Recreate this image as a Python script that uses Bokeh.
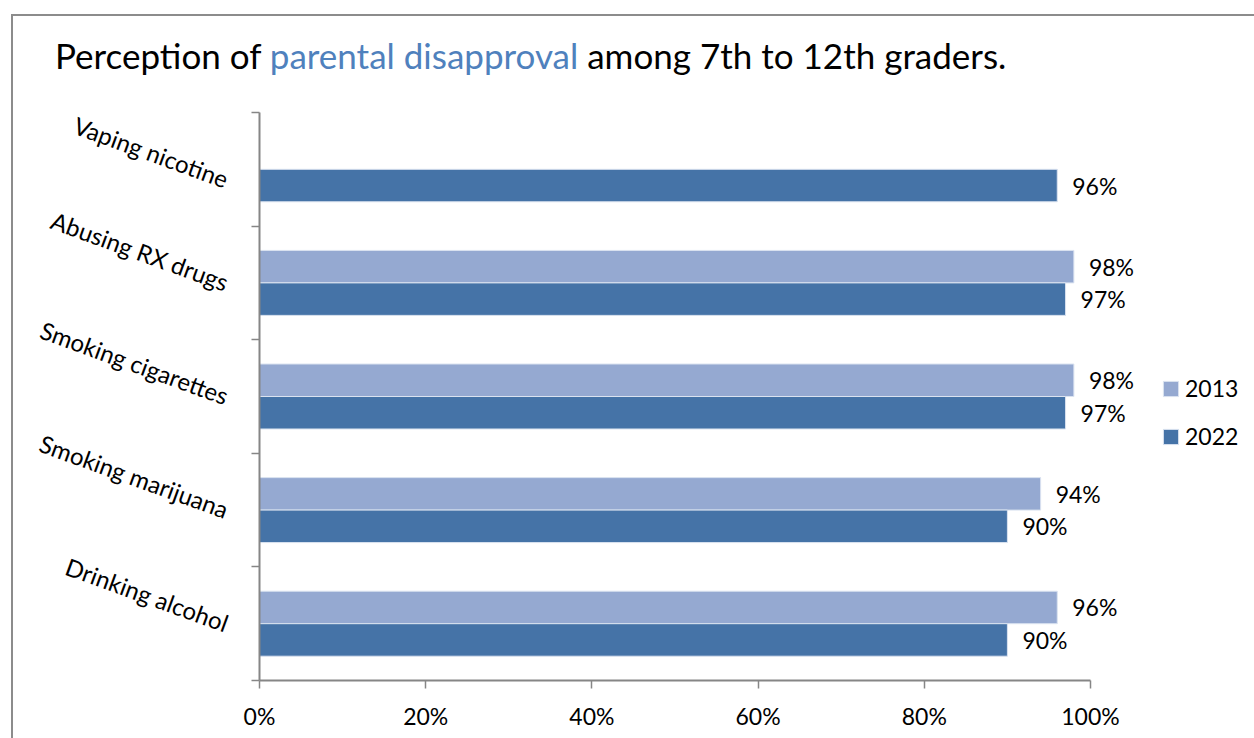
import math

from bokeh.plotting import figure
from bokeh.layouts import column
from bokeh.models import (Range1d, FixedTicker, PrintfTickFormatter, ColumnDataSource,
                          Legend, LegendItem, Div)
from bokeh.core.properties import value
from bokeh.embed import file_html
from bokeh.resources import INLINE

# Survey categories, bottom to top
categories = ["Drinking alcohol", "Smoking marijuana", "Smoking cigarettes",
              "Abusing RX drugs", "Vaping nicotine"]
pct_2013 = [96, 94, 98, 98, None]
pct_2022 = [90, 90, 97, 97, 96]
years = ["2013", "2022"]
x_ticks = [0, 20, 40, 60, 80, 100]

title_runs = ["Perception of ", "parental disapproval", " among 7th to 12th graders."]
title_colors = ["#000000", "#4F81BD", "#000000"]

COLOR_2013 = "#95A9D1"
COLOR_2022 = "#4573A7"
AXIS_COLOR = "#868686"
BORDER_COLOR = "#8c8c8c"
FONT = "Lato"

BAR_H = 0.286           # height of one bar in category units
OFFSET = BAR_H / 2      # 2013 above the category centre, 2022 below

# page geometry (px)
PAGE_W, PAGE_H = 1254, 738
MARGIN_L, MARGIN_T, BORDER_W = 11, 14, 2
INNER_W = PAGE_W - MARGIN_L - BORDER_W
TITLE_H = 94
MAIN_H = PAGE_H - MARGIN_T - BORDER_W - TITLE_H
FRAME_L = 246            # y axis position inside the main figure
PLOT_W = 831             # pixels from 0% to 100%
FRAME_TOP = 2
FRAME_BOTTOM = 58
X_END = 100 * (INNER_W - FRAME_L) / PLOT_W

# ---- title -------------------------------------------------------------
spans = "".join(f'<span style="color:{c}">{t}</span>' for t, c in zip(title_runs, title_colors))
title = Div(text=(f'<div style="padding:18px 0 0 42px; font-family:{FONT}; font-size:35px; '
                  f'line-height:1.2; white-space:pre; color:#000000">{spans}</div>'),
            width=INNER_W, height=TITLE_H, margin=0)

# ---- main chart --------------------------------------------------------
p = figure(width=INNER_W, height=MAIN_H, output_backend="svg", toolbar_location=None,
           x_range=Range1d(0, X_END), y_range=Range1d(-0.5, len(categories) - 0.5),
           min_border_left=FRAME_L, min_border_right=0,
           min_border_top=FRAME_TOP, min_border_bottom=FRAME_BOTTOM, margin=0)
p.outline_line_color = None
p.xgrid.visible = False
p.ygrid.visible = False


def series_source(values, shift):
    rows = [(i, v) for i, v in enumerate(values) if v is not None]
    return ColumnDataSource(dict(
        y=[i + shift for i, _ in rows],
        value=[v for _, v in rows],
        text=[f"{v}%" for _, v in rows],
    ))


src_2013 = series_source(pct_2013, OFFSET)
src_2022 = series_source(pct_2022, -OFFSET)

r13 = p.hbar(y="y", left=0, right="value", height=BAR_H, source=src_2013,
             fill_color=COLOR_2013, line_color="#dbe3f0", line_width=1)
r22 = p.hbar(y="y", left=0, right="value", height=BAR_H, source=src_2022,
             fill_color=COLOR_2022, line_color="#dbe3f0", line_width=1)

for src in (src_2013, src_2022):
    p.text(x="value", y="y", text="text", source=src, x_offset=15,
           text_align="left", text_baseline="middle",
           text_font=value(FONT), text_font_size="23px", text_color="#000000")

# x axis: percentages, only across 0-100
xa = p.xaxis[0]
xa.bounds = (0, 100)
xa.ticker = FixedTicker(ticks=x_ticks, minor_ticks=[])
xa.formatter = PrintfTickFormatter(format="%d%%")
xa.major_tick_in = 0
xa.major_tick_out = 8
xa.axis_line_color = AXIS_COLOR
xa.axis_line_width = 2
xa.major_tick_line_color = AXIS_COLOR
xa.major_tick_line_width = 1.5
xa.major_label_text_font = FONT
xa.major_label_text_font_size = "23px"
xa.major_label_text_color = "#000000"
xa.major_label_standoff = 13

# y axis: names at category centres, tick marks on the boundaries
ya = p.yaxis[0]
ya.ticker = FixedTicker(ticks=list(range(len(categories))),
                        minor_ticks=[i - 0.5 for i in range(len(categories) + 1)])
ya.major_label_overrides = {i: name for i, name in enumerate(categories)}
ya.major_tick_in = 0
ya.major_tick_out = 0
ya.minor_tick_in = 0
ya.minor_tick_out = 8
ya.axis_line_color = AXIS_COLOR
ya.axis_line_width = 2
ya.minor_tick_line_color = AXIS_COLOR
ya.minor_tick_line_width = 1.5
ya.major_label_orientation = -math.radians(20)
ya.major_label_standoff = 24
ya.major_label_text_font = FONT
ya.major_label_text_font_size = "24px"
ya.major_label_text_color = "#000000"

legend = Legend(items=[LegendItem(label=years[0], renderers=[r13]),
                       LegendItem(label=years[1], renderers=[r22])],
                location=(902, 230), orientation="vertical",
                glyph_width=19, glyph_height=19, label_height=22, label_standoff=5,
                spacing=20, padding=0, margin=0,
                border_line_color=None, background_fill_alpha=0,
                label_text_font=FONT, label_text_font_size="23px", label_text_color="#000000")
p.add_layout(legend)

page = column(title, p, spacing=0, margin=(MARGIN_T, 0, 0, MARGIN_L),
              styles={"border-left": f"{BORDER_W}px solid {BORDER_COLOR}",
                      "border-top": f"{BORDER_W}px solid {BORDER_COLOR}"})

open("out.html", "w").write(file_html(page, INLINE))
